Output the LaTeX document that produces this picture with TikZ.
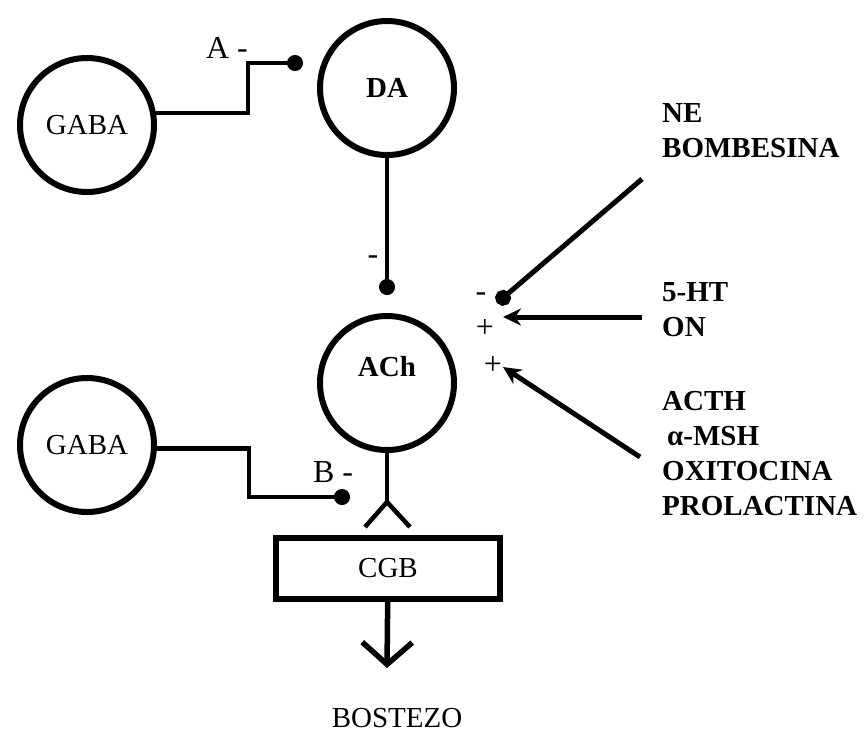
\documentclass[tikz,border=0pt]{standalone}
\usepackage{fontspec}
\setmainfont{Liberation Serif}
\usetikzlibrary{arrows.meta, positioning, calc}

\begin{document}
\begin{tikzpicture}[
    x=1pt, y=-1pt,
    neuron/.style={circle, draw, line width=6pt, minimum size=134pt, inner sep=0pt, font=\fontsize{29}{35}\selectfont},
    block/.style={rectangle, draw, line width=6pt, minimum width=224pt, minimum height=61pt, font=\fontsize{29}{35}\selectfont},
    wire/.style={line width=4.5pt},
    inhib/.style={wire, -{Circle[length=16pt]}},
    excit/.style={line width=5pt, -{Stealth[length=18pt, width=17pt]}},
    outflow/.style={line width=5.5pt, line cap=round, -{Straight Barb[length=22pt, width=50pt]}},
    signtext/.style={font=\fontsize{29}{35}\selectfont, inner sep=0pt},
    agent/.style={align=left, anchor=north west, inner sep=0pt, font=\fontsize{29}{35}\selectfont\bfseries},
]
\useasboundingbox (0,0) rectangle (866,732);

% Neurons
\node[neuron] (gabatop) at (87,125) {GABA};
\node[neuron, font=\fontsize{29}{35}\selectfont\bfseries] (da) at (387,88) {DA};
\node[neuron, label={[font=\fontsize{29}{35}\selectfont\bfseries, yshift=16pt]center:ACh}] (ach) at (387,383) {};
\node[neuron] (gababot) at (87,445) {GABA};
\node[block] (cgb) at (388,568) {CGB};
\node[signtext, anchor=base] (bostezo) at (397,727) {BOSTEZO};

% Agents on the right
\node[agent] (ne) at (662,103) {NE\\BOMBESINA};
\node[agent] (ht) at (662,282) {5-HT\\ON};
\node[agent] (acth) at (662,391) {ACTH\\\hspace{5pt}α-MSH\\OXITOCINA\\PROLACTINA};

% Free ends
\coordinate (asyn) at (303,63);
\coordinate (bsyn) at (350,497);
\coordinate (fork) at (387,502);
\coordinate (yawn) at (387,668);
\coordinate (nestart) at (642,179);
\coordinate (neend) at (497,303);
\coordinate (htstart) at (642,317);
\coordinate (htend) at (503,317);
\coordinate (acthstart) at (640,457);
\coordinate (acthend) at (503,367);

% Signs
\node[signtext, font=\fontsize{32}{35}\selectfont] (asign) at (227,48) {A -};
\node[signtext, font=\fontsize{32}{35}\selectfont] (dasign) at (373,260) {-};
\node[signtext, font=\fontsize{32}{35}\selectfont] (bsign) at (333,472) {B -};
\node[signtext, font=\fontsize{32}{35}\selectfont] (nesign) at (481,297) {-};
\node[signtext, font=\fontsize{32}{35}\selectfont] (htsign) at (485,328) {+};
\node[signtext, font=\fontsize{32}{35}\selectfont] (acthsign) at (493,365) {+};

\draw[inhib] (gabatop.10) -- ++(92,0) |- (asyn);
\draw[inhib, shorten >=18pt] (da) -- (ach);
\draw[inhib] (gababot.-3) -- ++(92,0) |- (bsyn);
\draw[wire] (ach) -- (fork);
\draw[wire] (fork) -- ++(-22,25);
\draw[wire] (fork) -- ++(23,25);
\draw[outflow] (cgb) -- (yawn);

\draw[wire, line width=5pt, -{Circle[length=16pt]}] (nestart) -- (neend);
\draw[excit] (htstart) -- (htend);
\draw[excit] (acthstart) -- (acthend);

\end{tikzpicture}
\end{document}
